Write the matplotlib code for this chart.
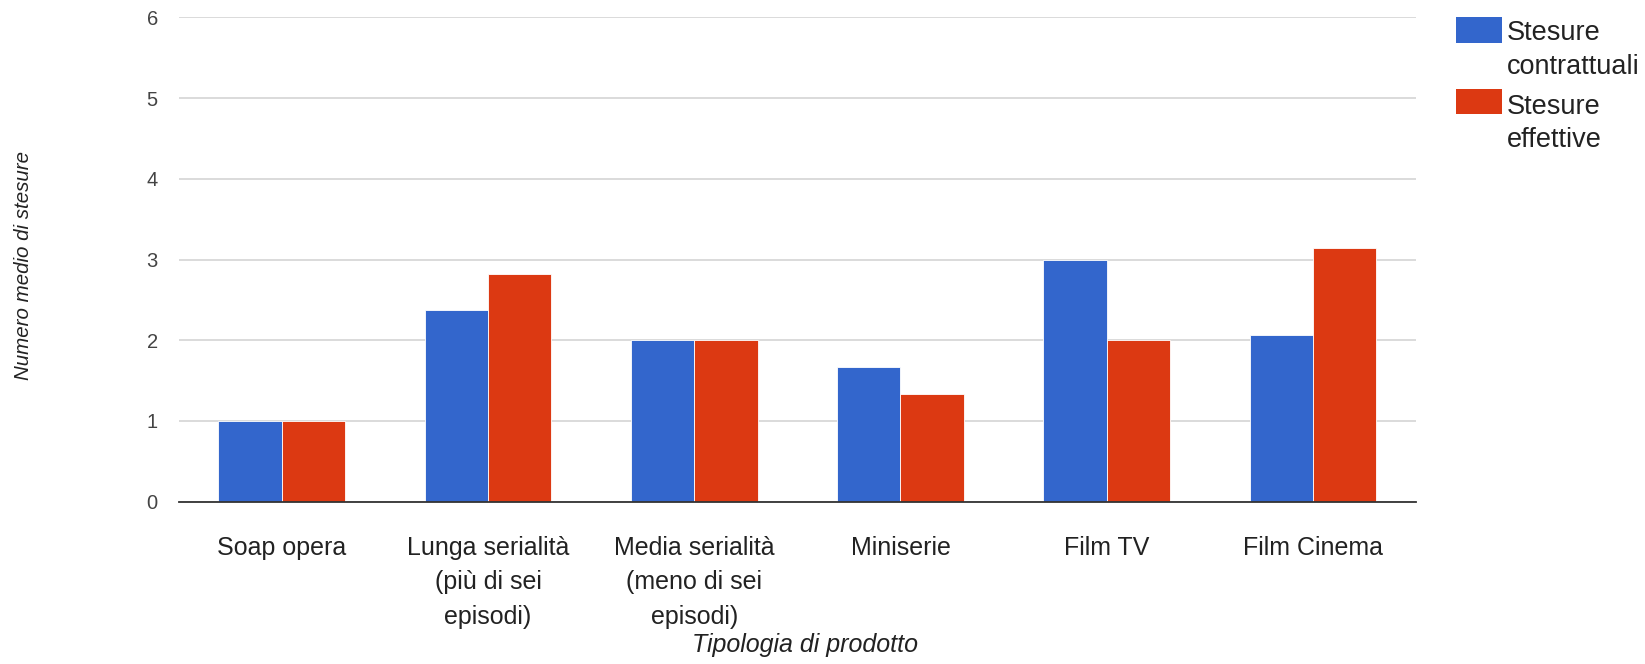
import numpy as np
import matplotlib
matplotlib.use("Agg")
import matplotlib.pyplot as plt
from matplotlib.patches import Rectangle

plt.rcParams['font.family'] = ['Liberation Sans', 'DejaVu Sans']

categorie = ["Soap opera",
             "Lunga serialità\n(più di sei\nepisodi)",
             "Media serialità\n(meno di sei\nepisodi)",
             "Miniserie",
             "Film TV",
             "Film Cinema"]
contrattuali = [1.0, 2.37, 2.0, 1.67, 3.0, 2.06]
effettive = [1.0, 2.82, 2.0, 1.33, 2.0, 3.14]
serie = ["Stesure\ncontrattuali", "Stesure\neffettive"]

blu = "#3366CC"
rosso = "#DC3912"

W, H = 1645, 664
fig = plt.figure(figsize=(W / 100, H / 100), dpi=100)
ax = fig.add_axes([178.7 / W, 1 - 501.7 / H, (1416 - 178.7) / W, (501.7 - 17.3) / H])

x = np.arange(len(categorie))
w = 0.307
ax.bar(x - w / 2, contrattuali, w, color=blu, edgecolor="white", linewidth=0.6, zorder=3)
ax.bar(x + w / 2, effettive, w, color=rosso, edgecolor="white", linewidth=0.6, zorder=3)

ax.set_xlim(-0.5, len(categorie) - 0.5)
ax.set_ylim(0, 6)
ax.set_yticks(range(0, 7))
ax.grid(axis="y", color="#d4d4d4", linewidth=1.2, zorder=0)
for s in ["top", "right", "left"]:
    ax.spines[s].set_visible(False)
ax.spines["bottom"].set_color("#333333")
ax.spines["bottom"].set_linewidth(1.3)
ax.spines["bottom"].set_zorder(4)
ax.tick_params(axis="both", length=0)
ax.tick_params(axis="y", labelsize=14.5, labelcolor="#444444", pad=15)

ax.set_xticks(x)
ax.set_xticklabels(categorie, fontsize=18, color="#222222", linespacing=1.53, va="top")
ax.tick_params(axis="x", pad=25)

fig.text(805 / W, 1 - 645 / H, "Tipologia di prodotto", fontsize=18,
         style="italic", color="#222222", ha="center", va="center")
fig.text(24 / W, 1 - 265 / H, "Numero medio di stesure", rotation=90, fontsize=14.8,
         style="italic", color="#222222", ha="center", va="center")

# legenda: quadratino allineato alla prima riga dell'etichetta
for i, (nome, col) in enumerate(zip(serie, [blu, rosso])):
    top = 17.3 + i * 71.5
    fig.add_artist(Rectangle((1456 / W, 1 - (top + 25.4) / H), 46 / W, 25.4 / H,
                             transform=fig.transFigure, color=col, lw=0))
    fig.text(1507 / W, 1 - (73.5 + i * 73.5) / H, nome, fontsize=19.5, color="#222222",
             ha="left", va="baseline", linespacing=1.35)

fig.savefig("out.png", dpi=100)
